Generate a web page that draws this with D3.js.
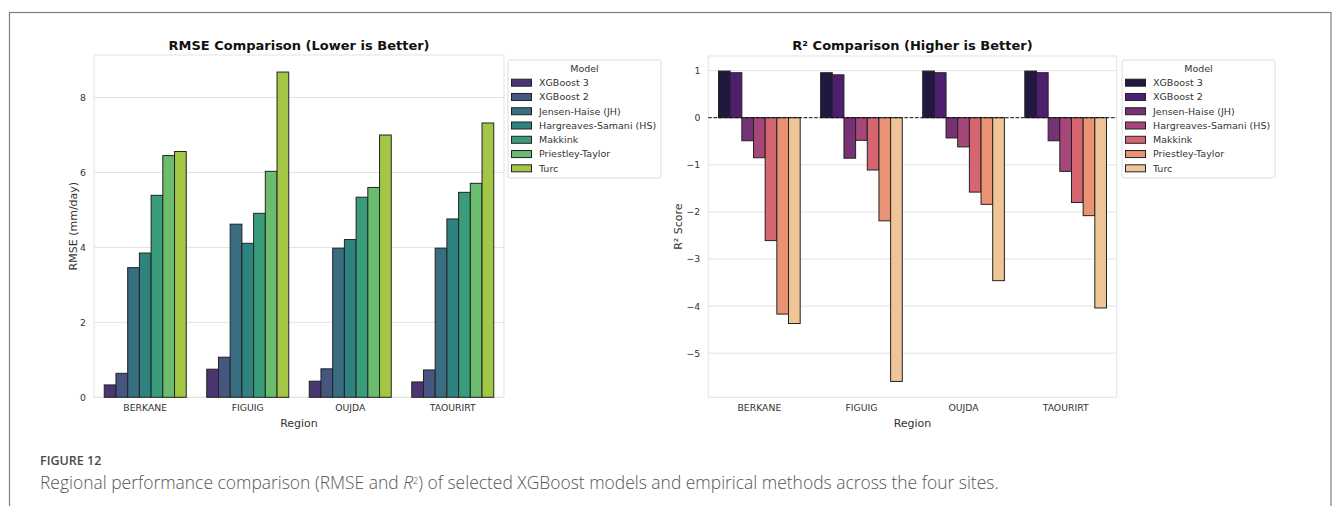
<!DOCTYPE html>
<html><head><meta charset="utf-8">
<script src="https://cdn.jsdelivr.net/npm/d3@7"></script>
<style>
body{margin:0;background:#fff;}
svg{display:block;}
</style></head>
<body>
<svg id="c" width="1333" height="506"></svg>
<script>
const regions = ["BERKANE","FIGUIG","OUJDA","TAOURIRT"];
const models = ["XGBoost 3","XGBoost 2","Jensen-Haise (JH)","Hargreaves-Samani (HS)","Makkink","Priestley-Taylor","Turc"];
// RMSE values per model, in region order
const rmseXGB3 = [0.33,0.75,0.43,0.41];
const rmseXGB2 = [0.64,1.07,0.76,0.73];
const rmseJH   = [3.46,4.62,3.98,3.98];
const rmseHS   = [3.85,4.11,4.21,4.76];
const rmseMak  = [5.39,4.91,5.34,5.47];
const rmsePT   = [6.45,6.03,5.60,5.71];
const rmseTurc = [6.56,8.68,7.00,7.32];
// R2 values per model, in region order
const r2XGB3 = [0.99,0.955,0.99,0.99];
const r2XGB2 = [0.955,0.91,0.955,0.955];
const r2JH   = [-0.49,-0.86,-0.43,-0.49];
const r2HS   = [-0.85,-0.48,-0.62,-1.14];
const r2Mak  = [-2.61,-1.11,-1.58,-1.80];
const r2PT   = [-4.17,-2.19,-1.84,-2.08];
const r2Turc = [-4.37,-5.60,-3.46,-4.04];
const rmseTicks = [0,2,4,6,8];
const r2Ticks = [1,0,-1,-2,-3,-4,-5];

const rmseSeries = [rmseXGB3,rmseXGB2,rmseJH,rmseHS,rmseMak,rmsePT,rmseTurc];
const r2Series = [r2XGB3,r2XGB2,r2JH,r2HS,r2Mak,r2PT,r2Turc];

function desat(c){ const h=d3.hsl(c); h.s*=0.75; return h.formatHex(); }
const tpos = models.map((m,i)=>(i+1)/(models.length+1));
const viridisCols = tpos.map(t=>desat(d3.interpolateViridis(t)));
const magmaCols = tpos.map(t=>desat(d3.interpolateMagma(t)));

const svg = d3.select("#c");
const FONT = "'DejaVu Sans', sans-serif";

// outer frame
svg.append("rect").attr("x",9.5).attr("y",12.5).attr("width",1321.5).attr("height",520)
  .attr("fill","none").attr("stroke","#7c7c84").attr("stroke-width",1.2);

function panel(opts){
  const {x0,x1,y0,y1,domain,ticks,series,colors,title,ylabel,ylabelX,zeroLine,legendX} = opts;
  const g = svg.append("g");
  const x = d3.scaleBand().domain(regions).range([x0,x1]).padding(0);
  const xs = d3.scaleBand().domain(models).range([0.1*x.bandwidth(),0.9*x.bandwidth()]).padding(0);
  const y = d3.scaleLinear().domain(domain).range([y1,y0]);
  // grid
  g.append("g").selectAll("line").data(ticks).join("line")
    .attr("x1",x0).attr("x2",x1).attr("y1",d=>y(d)).attr("y2",d=>y(d))
    .attr("stroke","#e3e3e3").attr("stroke-width",1);
  // frame (spines)
  g.append("rect").attr("x",x0).attr("y",y0).attr("width",x1-x0).attr("height",y1-y0)
    .attr("fill","none").attr("stroke","#e3e3e3").attr("stroke-width",1);
  // bars
  const rows=[];
  series.forEach((vals,mi)=>vals.forEach((v,ri)=>rows.push({m:models[mi],mi,r:regions[ri],v})));
  g.append("g").selectAll("rect").data(rows).join("rect")
    .attr("x",d=>x(d.r)+xs(d.m))
    .attr("width",xs.bandwidth())
    .attr("y",d=>y(Math.max(0,d.v)))
    .attr("height",d=>Math.abs(y(d.v)-y(0)))
    .attr("fill",d=>colors[d.mi])
    .attr("stroke","#222").attr("stroke-width",1);
  if(zeroLine){
    g.append("line").attr("x1",x0).attr("x2",x1).attr("y1",y(0)).attr("y2",y(0))
      .attr("stroke","#111").attr("stroke-width",1).attr("stroke-dasharray","3.5,1.8");
  }
  // y axis
  const ya = d3.axisLeft(y).tickValues(ticks).tickSize(0).tickPadding(8);
  const yg = g.append("g").attr("transform",`translate(${x0},0)`).call(ya);
  yg.select(".domain").remove();
  yg.selectAll("text").attr("font-family",FONT).attr("font-size",9.3).attr("fill","#333");
  // x axis
  const xa = d3.axisBottom(x).tickSize(0).tickPadding(7);
  const xg = g.append("g").attr("transform",`translate(0,${y1})`).call(xa);
  xg.select(".domain").remove();
  xg.selectAll("text").attr("font-family",FONT).attr("font-size",9.3).attr("fill","#333");
  // labels
  g.append("text").attr("x",(x0+x1)/2).attr("y",427).attr("text-anchor","middle")
    .attr("font-family",FONT).attr("font-size",11).attr("fill","#333").text("Region");
  g.append("text").attr("transform",`translate(${ylabelX},${(y0+y1)/2}) rotate(-90)`)
    .attr("text-anchor","middle").attr("font-family",FONT).attr("font-size",11).attr("fill","#333").text(ylabel);
  g.append("text").attr("x",(x0+x1)/2).attr("y",49.5).attr("text-anchor","middle")
    .attr("font-family",FONT).attr("font-size",13).attr("font-weight","bold").attr("fill","#111").text(title);
  // legend
  const lg = g.append("g");
  lg.append("rect").attr("x",legendX).attr("y",60).attr("width",153).attr("height",118)
    .attr("rx",2.5).attr("fill","#fff").attr("stroke","#dcdcdc").attr("stroke-width",1);
  lg.append("text").attr("x",legendX+76.5).attr("y",71.5).attr("text-anchor","middle")
    .attr("font-family",FONT).attr("font-size",9.5).attr("fill","#333").text("Model");
  const items = lg.selectAll("g.it").data(models).join("g").attr("class","it")
    .attr("transform",(d,i)=>`translate(${legendX},${82.7+i*14.27})`);
  items.append("rect").attr("x",3.5).attr("y",-3.5).attr("width",20).attr("height",7)
    .attr("fill",(d,i)=>colors[i]).attr("stroke","#222").attr("stroke-width",1);
  items.append("text").attr("x",31).attr("y",3.4).attr("font-family",FONT).attr("font-size",9.5)
    .attr("fill","#333").text(d=>d);
}

panel({x0:94,x1:504,y0:55,y1:397.3,domain:[0,9.135],ticks:rmseTicks,series:rmseSeries,
  colors:viridisCols,title:"RMSE Comparison (Lower is Better)",ylabel:"RMSE (mm/day)",ylabelX:76.5,zeroLine:false,legendX:508});
panel({x0:708.3,x1:1116.7,y0:56,y1:397.3,domain:[-5.937,1.31],ticks:r2Ticks,series:r2Series,
  colors:magmaCols,title:"R² Comparison (Higher is Better)",ylabel:"R² Score",ylabelX:682,zeroLine:true,legendX:1122});

// caption
const CF = "'Open Sans', Lato, sans-serif";
svg.append("text").attr("x",40).attr("y",464.5).attr("font-family",CF).attr("font-size",12.5)
  .attr("font-weight",600).attr("fill","#4a4a4a").text("FIGURE 12");
const cap = svg.append("text").attr("x",40).attr("y",488.5).attr("font-family",CF).attr("font-size",14.5)
  .attr("font-weight",300).attr("fill","#555");
cap.append("tspan").text("Regional performance comparison (RMSE and ");
cap.append("tspan").attr("font-style","italic").text("R");
cap.append("tspan").attr("font-size",9).attr("dy",-5).text("2");
cap.append("tspan").attr("dy",5).text(") of selected XGBoost models and empirical methods across the four sites.");
const w = cap.node().getComputedTextLength();
cap.attr("font-size",14.5*960/w);
</script>
</body></html>
